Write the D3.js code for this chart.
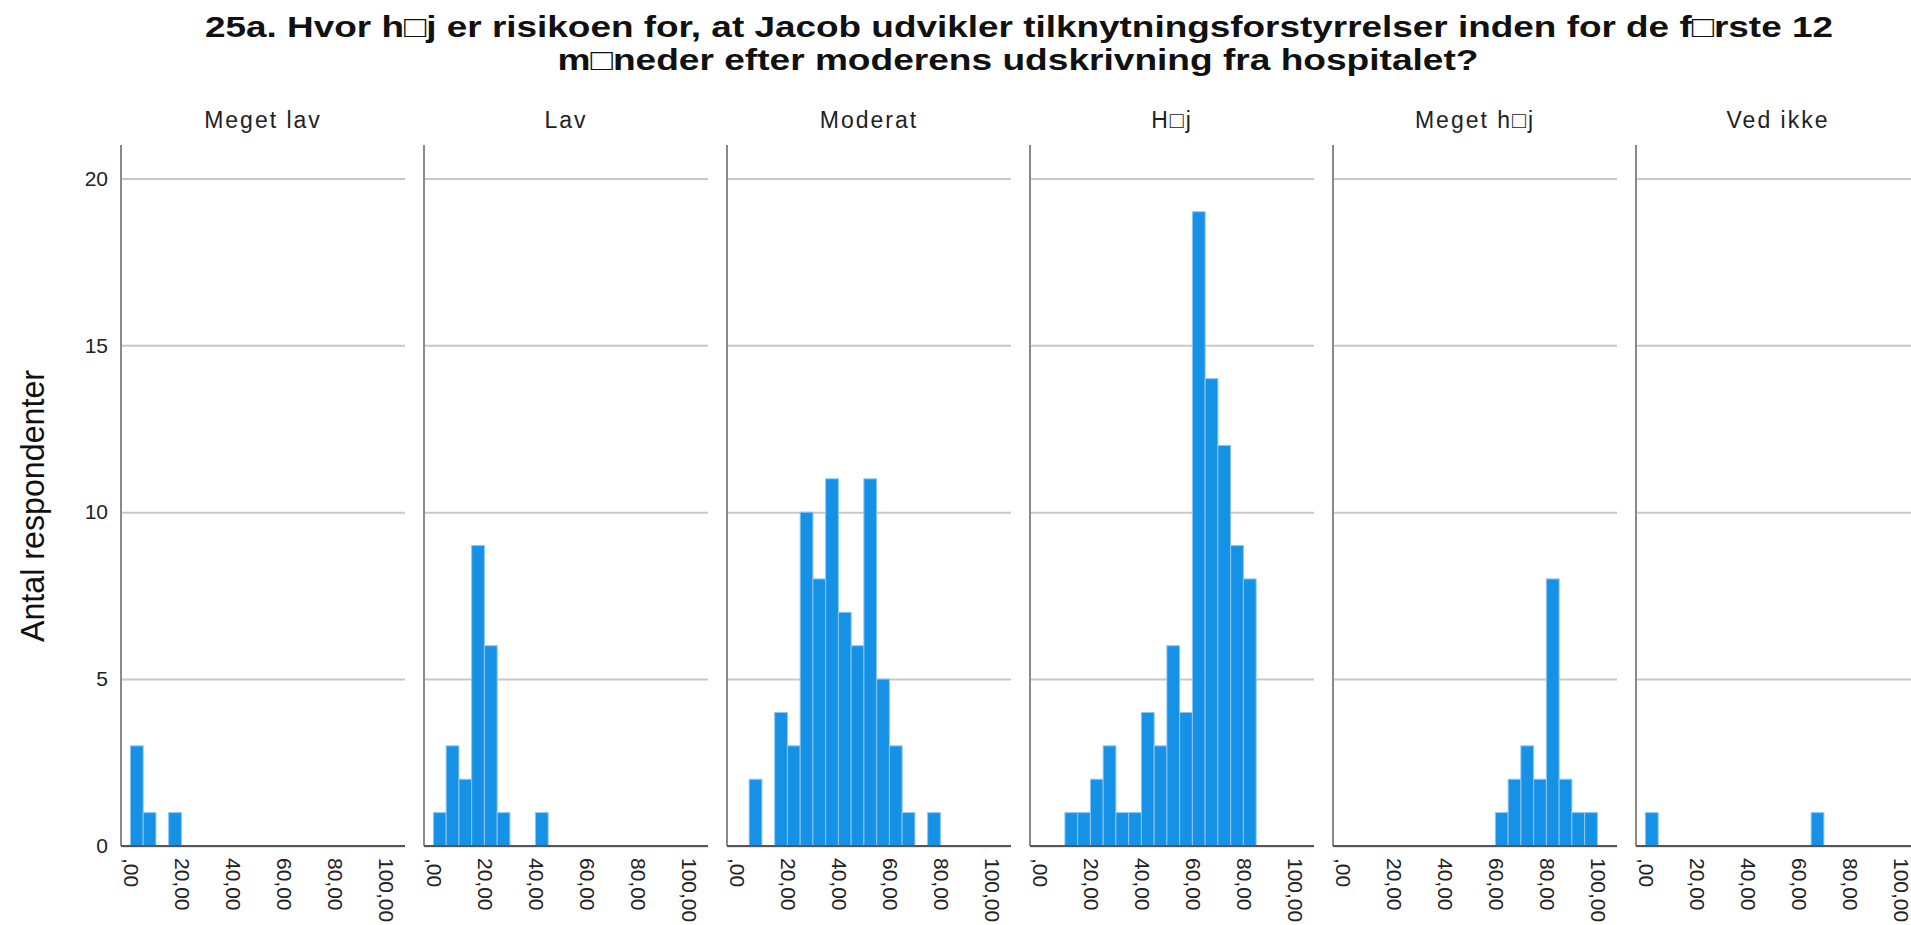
<!doctype html>
<html>
<head>
<meta charset="UTF-8">
<title>25a. Histogram</title>
<script src="https://d3js.org/d3.v7.min.js"></script>
<style>
  body { margin: 0; background: #fff; }
  text { font-family: "Liberation Sans", Arial, sans-serif; }
</style>
</head>
<body>
<svg id="chart" width="1911" height="925"></svg>
<script>
// panel categories (one histogram per answer)
var categories = ["Meget lav", "Lav", "Moderat", "H\u25A1j", "Meget h\u25A1j", "Ved ikke"];

// bin starts, width 5 (0-5, 5-10, ... 95-100)
var binStarts = [0, 5, 10, 15, 20, 25, 30, 35, 40, 45, 50, 55, 60, 65, 70, 75, 80, 85, 90, 95];

// counts per bin
var megetLav  = [3, 1, 0, 1, 0, 0, 0, 0, 0, 0, 0, 0, 0, 0, 0, 0, 0, 0, 0, 0];
var lav       = [1, 3, 2, 9, 6, 1, 0, 0, 1, 0, 0, 0, 0, 0, 0, 0, 0, 0, 0, 0];
var moderat   = [0, 2, 0, 4, 3, 10, 8, 11, 7, 6, 11, 5, 3, 1, 0, 1, 0, 0, 0, 0];
var hoej      = [0, 0, 1, 1, 2, 3, 1, 1, 4, 3, 6, 4, 19, 14, 12, 9, 8, 0, 0, 0];
var megetHoej = [0, 0, 0, 0, 0, 0, 0, 0, 0, 0, 0, 0, 1, 2, 3, 2, 8, 2, 1, 1];
var vedIkke   = [1, 0, 0, 0, 0, 0, 0, 0, 0, 0, 0, 0, 0, 1, 0, 0, 0, 0, 0, 0];

var xTicks = [0, 20, 40, 60, 80, 100];
var xTickLabels = [",00", "20,00", "40,00", "60,00", "80,00", "100,00"];
var yTicks = [0, 5, 10, 15, 20];

var titleLines = [
  "25a. Hvor h\u25A1j er risikoen for, at Jacob udvikler tilknytningsforstyrrelser inden for de f\u25A1rste 12",
  "m\u25A1neder efter moderens udskrivning fra hospitalet?"
];
var yTitle = "Antal respondenter";

var series = [megetLav, lav, moderat, hoej, megetHoej, vedIkke];

var svg = d3.select("#chart");

var plotTop = 145, plotBottom = 846, panelW = 284;

var panelX = d3.scaleBand().domain(categories).range([121, 121 + 6 * 303]);
var x = d3.scaleLinear().domain([-3.7, 107.7]).range([0, panelW]);
var y = d3.scaleLinear().domain([0, 21]).range([plotBottom, plotTop]);

// title
svg.append("text").attr("x", 1019).attr("y", 37).attr("text-anchor", "middle")
  .attr("font-size", 30).attr("font-weight", "bold").attr("fill", "#111")
  .attr("textLength", 1628).attr("lengthAdjust", "spacingAndGlyphs").text(titleLines[0]);
svg.append("text").attr("x", 1018).attr("y", 70).attr("text-anchor", "middle")
  .attr("font-size", 30).attr("font-weight", "bold").attr("fill", "#111")
  .attr("textLength", 921).attr("lengthAdjust", "spacingAndGlyphs").text(titleLines[1]);

// y title
svg.append("text").attr("transform", "translate(44,506) rotate(-90)")
  .attr("text-anchor", "middle").attr("font-size", 33).attr("fill", "#111")
  .attr("textLength", 272).attr("lengthAdjust", "spacingAndGlyphs").text(yTitle);

categories.forEach(function(cat, i){
  var g = svg.append("g").attr("transform", "translate(" + panelX(cat) + ",0)");

  // gridlines
  var grid = g.append("g").call(d3.axisLeft(y).tickValues(yTicks).tickSize(-panelW).tickFormat(""));
  grid.select(".domain").remove();
  grid.selectAll(".tick line").attr("stroke", "#c8c8c8").attr("stroke-width", 2);

  // y tick labels only on first panel
  if(i === 0){
    var ya = svg.append("g").attr("transform", "translate(" + panelX(cat) + ",0)")
      .call(d3.axisLeft(y).tickValues(yTicks).tickSize(0).tickPadding(13));
    ya.select(".domain").remove();
    ya.selectAll("text").attr("font-size", 21).attr("fill", "#222")
      .attr("font-family", "Liberation Sans, Arial, sans-serif");
  }

  // bars
  var bins = binStarts.map(function(b, k){ return {start: b, count: series[i][k]}; })
    .filter(function(d){ return d.count > 0; });
  g.selectAll("rect.bar").data(bins).enter().append("rect")
    .attr("class", "bar")
    .attr("x", function(d){ return x(d.start); })
    .attr("width", function(d){ return x(d.start + 5) - x(d.start); })
    .attr("y", function(d){ return y(d.count); })
    .attr("height", function(d){ return y(0) - y(d.count); })
    .attr("fill", "#1591e6")
    .attr("stroke", "#8cc6f1").attr("stroke-width", 1);

  // x axis
  var xa = g.append("g").attr("transform", "translate(0," + plotBottom + ")")
    .call(d3.axisBottom(x).tickValues(xTicks).tickSize(0)
      .tickFormat(function(d, k){ return xTickLabels[k]; }));
  xa.select(".domain").remove();
  xa.selectAll("text")
    .attr("font-size", 21).attr("fill", "#222")
    .attr("font-family", "Liberation Sans, Arial, sans-serif")
    .attr("text-anchor", "start")
    .attr("transform", "rotate(90)")
    .attr("x", 12).attr("y", 0).attr("dy", "0.35em");

  // axis lines
  g.append("line").attr("x1", 0).attr("x2", 0).attr("y1", plotTop).attr("y2", plotBottom)
    .attr("stroke", "#8a8a8a").attr("stroke-width", 2);
  g.append("line").attr("x1", 0).attr("x2", panelW).attr("y1", plotBottom).attr("y2", plotBottom)
    .attr("stroke", "#555").attr("stroke-width", 2);

  // panel header
  g.append("text").attr("x", panelW / 2).attr("y", 128).attr("text-anchor", "middle")
    .attr("font-size", 23).attr("letter-spacing", 2).attr("fill", "#222").text(cat);
});
</script>
</body>
</html>
